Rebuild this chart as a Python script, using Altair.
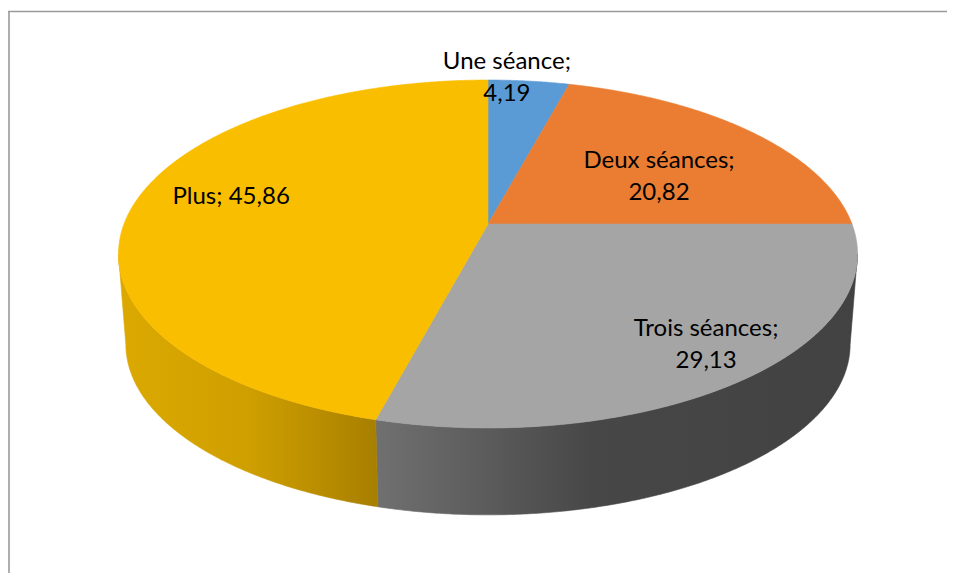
import altair as alt
import numpy as np
import pandas as pd

# ---- data ----
categories = ["Une séance", "Deux séances", "Trois séances", "Plus"]
values = [4.19, 20.82, 29.13, 45.86]
label_sep = ["\n", "\n", "\n", " "]

# ---- styling ----
top_colors = ["#5b9bd5", "#eb7d32", "#a5a5a5", "#fabe00"]
side_fill = {
    2: {"gradient": "linear", "x1": 0, "x2": 1, "y1": 0, "y2": 0,
        "stops": [{"offset": 0, "color": "#707070"}, {"offset": 0.2, "color": "#5e5e5e"},
                  {"offset": 0.45, "color": "#474747"}, {"offset": 1, "color": "#424242"}]},
    3: {"gradient": "linear", "x1": 0, "x2": 1, "y1": 0, "y2": 0,
        "stops": [{"offset": 0, "color": "#dba900"}, {"offset": 0.5, "color": "#cf9f00"},
                  {"offset": 1, "color": "#a77f00"}]},
}
label_r = [1.016, 0.575, 0.831, 0.744]
label_dtheta = [-4.1, 6.6, -2.4, 5.3]

# ---- 3D pie projection (perspective tilt) ----
K = 0.1724       # perspective strength
DEPTH = 0.539    # thickness of the pie (normalised units)
SHRINK = 0.98    # bottom rim is slightly smaller
W, H = 939, 565
CX, CY = 480, 216
AX, BY = 364, 168.8
LINE_H = 32
T_RIGHT = np.degrees(np.arccos(-K))
T_LEFT = 360 - T_RIGHT


def proj(theta_deg, r=1.0):
    t = np.radians(theta_deg)
    u = r * np.sin(t)
    w = r * np.cos(t)
    d = 1 + K * w
    return u / d, w / d


def arc(t0, t1):
    n = max(2, int(abs(t1 - t0) / 0.4) + 1)
    ts = np.linspace(t0, t1, n)
    return [proj(t) for t in ts]


cum = np.concatenate([[0], np.cumsum(values)]) / sum(values) * 360
rows = []
for s, cat in enumerate(categories):
    t0, t1 = cum[s], cum[s + 1]
    pts = [(0.0, 0.0)] + arc(t0, t1) + [(0.0, 0.0)]
    for i, (x, y) in enumerate(pts):
        rows.append({"slice": s, "part": "top", "i": i, "x": x, "y": y})
    a0, a1 = max(t0, T_RIGHT), min(t1, T_LEFT)
    if a0 < a1:
        upper = arc(a0, a1)
        lower = [(SHRINK * x, SHRINK * y - DEPTH) for (x, y) in arc(a0, a1)][::-1]
        side = upper + lower + [upper[0]]
        for i, (x, y) in enumerate(side):
            rows.append({"slice": s, "part": "side", "i": i, "x": x, "y": y})
poly = pd.DataFrame(rows)

lab_rows = []
for s, cat in enumerate(categories):
    mid = (cum[s] + cum[s + 1]) / 2 + label_dtheta[s]
    x, y = proj(mid, label_r[s])
    txt = f"{cat};{label_sep[s]}{values[s]:.2f}".replace(".", ",")
    lab_rows.append({"x": x, "y": y, "label": txt, "lines": txt.count("\n") + 1})
labels = pd.DataFrame(lab_rows)

xs = alt.Scale(domain=[-CX / AX, (W - CX) / AX], nice=False, zero=False)
ys = alt.Scale(domain=[(CY - H) / BY, CY / BY], nice=False, zero=False)

base = alt.Chart(poly).encode(
    x=alt.X("x:Q", scale=xs, axis=None),
    y=alt.Y("y:Q", scale=ys, axis=None),
    order=alt.Order("i:Q"),
)

layers = []
for s, f in side_fill.items():
    layers.append(
        base.transform_filter(f"datum.slice == {s} && datum.part == 'side'")
        .mark_line(fill=f, stroke=f, strokeWidth=0.6, interpolate="linear")
    )
for s, c in enumerate(top_colors):
    layers.append(
        base.transform_filter(f"datum.slice == {s} && datum.part == 'top'")
        .mark_line(fill=c, stroke=c, strokeWidth=0.6, interpolate="linear")
    )

border_data = alt.Data(values=[{}])
left_border = alt.Chart(border_data).mark_rule(color="#9a9a9a", strokeWidth=1.6).encode(
    x=alt.value(1), y=alt.value(3), y2=alt.value(H))
top_border = alt.Chart(border_data).mark_rule(color="#9a9a9a", strokeWidth=1.6).encode(
    y=alt.value(3.5), x=alt.value(0), x2=alt.value(W))

text_base = alt.Chart(labels).encode(
    x=alt.X("x:Q", scale=xs, axis=None),
    y=alt.Y("y:Q", scale=ys, axis=None),
    text="label:N",
)
text_style = dict(font="Lato", fontSize=24, color="#000000", align="center",
                  baseline="middle", lineBreak="\n", lineHeight=LINE_H)
text_multi = text_base.transform_filter("datum.lines == 2").mark_text(dy=-LINE_H / 2, **text_style)
text_single = text_base.transform_filter("datum.lines == 1").mark_text(**text_style)

chart = alt.layer(*layers, left_border, top_border, text_multi, text_single).properties(
    width=W, height=H, padding=0, autosize="none"
).configure_view(strokeWidth=0)

chart.save("out.html", embed_options={"renderer": "svg", "actions": False})
